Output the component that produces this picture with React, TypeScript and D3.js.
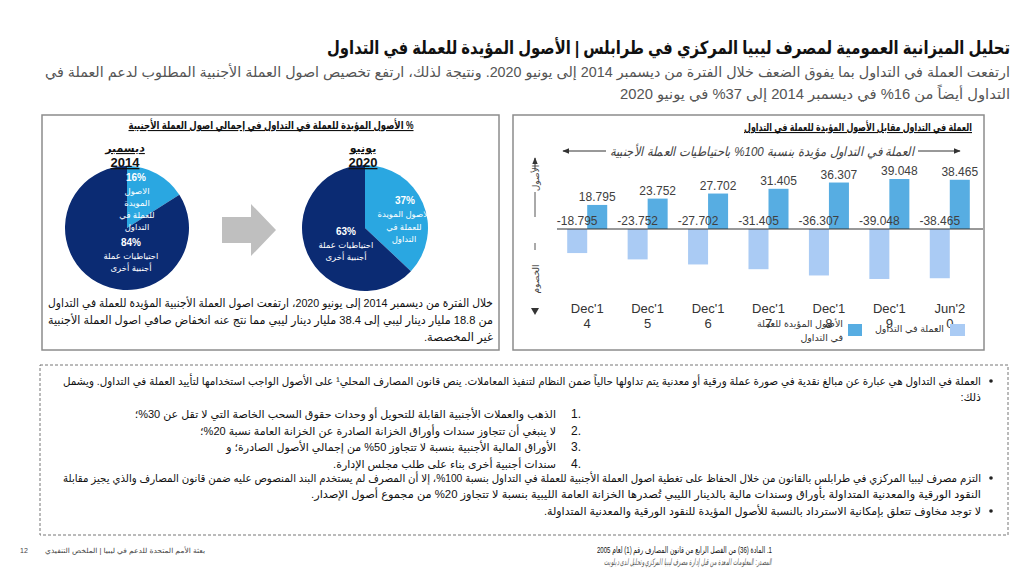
import React from 'react';
import * as d3 from 'd3';

// ---- data ----
const periods = ["Dec'14", "Dec'15", "Dec'16", "Dec'17", "Dec'18", "Dec'19", "Jun'20"];
const backedAssets = [18.795, 23.752, 27.702, 31.405, 36.307, 39.048, 38.465];
const currencyInCirculation = [-18.795, -23.752, -27.702, -31.405, -36.307, -39.048, -38.465];
const pieDec2014 = [16, 84];
const pieJun2020 = [37, 63];

const titleText = 'تحليل الميزانية العمومية لمصرف ليبيا المركزي في طرابلس | الأصول المؤيدة للعملة في التداول';
const subtitleLines = [
  'ارتفعت العملة في التداول بما يفوق الضعف خلال الفترة من ديسمبر 2014 إلى يونيو 2020. ونتيجة لذلك، ارتفع تخصيص اصول العملة الأجنبية المطلوب لدعم العملة في',
  'التداول أيضاً من 16% في ديسمبر 2014 إلى 37% في يونيو 2020',
];
const leftNoteLines = [
  'خلال الفترة من ديسمبر 2014 إلى يونيو 2020، ارتفعت اصول العملة الأجنبية المؤيدة للعملة في التداول',
  'من 18.8 مليار دينار ليبي إلى 38.4 مليار دينار ليبي مما نتج عنه انخفاض صافي اصول العملة الأجنبية',
  'غير المخصصة.',
];
const bullet1Lines = [
  'العملة في التداول هي عبارة عن مبالغ نقدية في صورة عملة ورقية أو معدنية يتم تداولها حالياً ضمن النظام لتنفيذ المعاملات. ينص قانون المصارف المحلي¹ على الأصول الواجب استخدامها لتأييد العملة في التداول. ويشمل',
  'ذلك:',
];
const lawItems = [
  'الذهب والعملات الأجنبية القابلة للتحويل أو وحدات حقوق السحب الخاصة التي لا تقل عن 30%؛',
  'لا ينبغي أن تتجاوز سندات وأوراق الخزانة الصادرة عن الخزانة العامة نسبة 20%؛',
  'الأوراق المالية الأجنبية بنسبة لا تتجاوز 50% من إجمالي الأصول الصادرة؛ و',
  'سندات أجنبية أخرى بناء على طلب مجلس الإدارة.',
];
const bullet2Lines = [
  'التزم مصرف ليبيا المركزي في طرابلس بالقانون من خلال الحفاظ على تغطية اصول العملة الأجنبية للعملة في التداول بنسبة 100%، إلا أن المصرف لم يستخدم البند المنصوص عليه ضمن قانون المصارف والذي يجيز مقابلة',
  'النقود الورقية والمعدنية المتداولة بأوراق وسندات مالية بالدينار الليبي تُصدرها الخزانة العامة الليبية بنسبة لا تتجاوز 20% من مجموع أصول الإصدار.',
];
const bullet3 = 'لا توجد مخاوف تتعلق بإمكانية الاسترداد بالنسبة للأصول المؤيدة للنقود الورقية والمعدنية المتداولة.';

const FONT = "'Liberation Sans', Arial, 'DejaVu Sans', sans-serif";
const DARK_NAVY = '#0b2b73';
const SKY = '#2aa7e1';
const BAR_DARK = '#57ade2';
const BAR_LIGHT = '#aacbf4';

type RProps = {
  x: number; y: number; size: number; children: React.ReactNode;
  fill?: string; weight?: string | number; len?: number; anchor?: string;
  italic?: boolean; underline?: boolean;
};

// right-to-left text, anchored at its right edge unless anchor is given
const RText: React.FC<RProps> = ({ x, y, size, children, fill = '#111', weight = 'normal', len, anchor = 'start', italic, underline }) => (
  <text
    x={x}
    y={y}
    fontSize={size}
    fontWeight={weight}
    fill={fill}
    textAnchor={anchor}
    fontStyle={italic ? 'italic' : 'normal'}
    textLength={len}
    lengthAdjust={len ? 'spacingAndGlyphs' : undefined}
    style={{ direction: 'rtl', textDecoration: underline ? 'underline' : 'none' }}
  >
    {children}
  </text>
);

const Pie: React.FC<{ cx: number; cy: number; r: number; values: number[] }> = ({ cx, cy, r, values }) => {
  const arcs = d3.pie<number>().sort(null).value(d => d)(values);
  const arc = d3.arc<d3.PieArcDatum<number>>().innerRadius(0).outerRadius(r);
  return (
    <g transform={`translate(${cx},${cy})`}>
      {arcs.map((a, i) => (
        <path key={i} d={arc(a) || ''} fill={i === 0 ? SKY : DARK_NAVY} />
      ))}
    </g>
  );
};

const App: React.FC = () => {
  // bar chart scales
  const x = d3.scaleBand<string>().domain(periods).range([557, 980]);
  const sub = d3.scaleBand<string>().domain(['circ', 'backed']).range([0, x.bandwidth()]).paddingOuter(0.51);
  const y = d3.scaleLinear().domain([-45, 45]).range([229 + 57.6, 229 - 57.6]);
  const y0 = y(0);

  const pie1 = { cx: 127, cy: 228, r: 62 };
  const pie2 = { cx: 365, cy: 228, r: 63 };

  return (
    <svg width={1024} height={577} style={{ position: 'absolute', left: 0, top: 0, background: '#fff' }} fontFamily={FONT}>
      <defs>
        <marker id="ah" viewBox="0 0 10 10" refX="9" refY="5" markerWidth="7" markerHeight="7" orient="auto-start-reverse">
          <path d="M0,1 L10,5 L0,9 z" fill="#333" />
        </marker>
      </defs>

      {/* heading */}
      <RText x={1010} y={54} size={18} weight="bold" fill="#111" len={683}>{titleText}</RText>
      <RText x={1010} y={77} size={14} fill="#555" len={965}>{subtitleLines[0]}</RText>
      <RText x={1010} y={99} size={14} fill="#555" len={390}>{subtitleLines[1]}</RText>

      {/* left panel */}
      <rect x={42} y={115} width={457} height={235} fill="none" stroke="#8c8c8c" strokeWidth={1.5} />
      <RText x={271} y={129} size={11} weight="bold" anchor="middle" underline len={285}>
        % الأصول المؤيدة للعملة في التداول في إجمالي اصول العملة الأجنبية
      </RText>

      <Pie {...pie1} values={pieDec2014} />
      <Pie {...pie2} values={pieJun2020} />

      <RText x={125} y={152} size={11} weight="bold" anchor="middle" underline>ديسمبر</RText>
      <text x={125} y={167} fontSize={13} fontWeight="bold" textAnchor="middle" fill="#111" textDecoration="underline">2014</text>
      <RText x={363} y={152} size={11} weight="bold" anchor="middle" underline>يونيو</RText>
      <text x={363} y={167} fontSize={13} fontWeight="bold" textAnchor="middle" fill="#111" textDecoration="underline">2020</text>

      {/* pie labels */}
      <g fill="#fff">
        <text x={136} y={181} fontSize={10} fontWeight="bold" textAnchor="middle" fill="#fff">{pieDec2014[0]}%</text>
        {['الاصول', 'المويدة', 'للعملة في', 'التداول'].map((t, i) => (
          <RText key={t} x={137} y={194 + i * 12} size={8.5} fill="#fff" anchor="middle">{t}</RText>
        ))}
        <text x={131} y={246} fontSize={10} fontWeight="bold" textAnchor="middle" fill="#fff">{pieDec2014[1]}%</text>
        <RText x={131} y={259} size={8.5} fill="#fff" anchor="middle">احتياطيات عملة</RText>
        <RText x={131} y={271} size={8.5} fill="#fff" anchor="middle">أجنبية أخرى</RText>

        <text x={405} y={204} fontSize={10} fontWeight="bold" textAnchor="middle" fill="#fff">{pieJun2020[0]}%</text>
        {['الاصول المويدة', 'للعملة في', 'التداول'].map((t, i) => (
          <RText key={t} x={404} y={217 + i * 12.5} size={8.5} fill="#fff" anchor="middle">{t}</RText>
        ))}
        <text x={346} y={235} fontSize={10} fontWeight="bold" textAnchor="middle" fill="#fff">{pieJun2020[1]}%</text>
        <RText x={346} y={248} size={8.5} fill="#fff" anchor="middle">احتياطيات عملة</RText>
        <RText x={346} y={260} size={8.5} fill="#fff" anchor="middle">أجنبية أخرى</RText>
      </g>

      {/* grey arrow between pies */}
      <path d="M222,217 L251,217 L251,204 L276,230 L251,256 L251,243 L222,243 Z" fill="#bfbfbf" />

      {leftNoteLines.map((t, i) => (
        <RText key={i} x={493} y={307 + i * 17} size={11.5} fill="#111" len={i < 2 ? 445 : undefined}>{t}</RText>
      ))}

      {/* right panel */}
      <rect x={513} y={115} width={471} height={235} fill="none" stroke="#8c8c8c" strokeWidth={1.5} />
      <RText x={972} y={131} size={11} weight="bold" underline len={228}>
        العملة في التداول مقابل الأصول المؤيدة للعملة في التداول
      </RText>

      <line x1={606} y1={151} x2={563} y2={151} stroke="#333" strokeWidth={1} markerEnd="url(#ah)" />
      <line x1={918} y1={151} x2={960} y2={151} stroke="#333" strokeWidth={1} markerEnd="url(#ah)" />
      <RText x={762} y={156} size={13} fill="#444" anchor="middle" italic len={305}>
        العملة في التداول مؤيدة بنسبة 100% باحتياطيات العملة الأجنبية
      </RText>

      {/* assets / liabilities axis note */}
      <line x1={535} y1={170} x2={535} y2={158} stroke="#333" strokeWidth={1} markerEnd="url(#ah)" />
      <text transform="translate(539,178) rotate(-90)" fontSize={9} textAnchor="middle" fill="#444" style={{ direction: 'rtl' }}>الأصول</text>
      <line x1={535} y1={192} x2={535} y2={217} stroke="#555" strokeWidth={1} />
      <line x1={535} y1={243} x2={535} y2={250} stroke="#555" strokeWidth={1} />
      <text transform="translate(539,279) rotate(-90)" fontSize={9} textAnchor="middle" fill="#444" style={{ direction: 'rtl' }}>الخصوم</text>
      <path d="M531,308 L539,308 L535,315 Z" fill="#333" />

      {/* bars */}
      {periods.map((p, i) => (
        <g key={p}>
          <rect x={(x(p) || 0) + (sub('circ') || 0)} y={y0} width={sub.bandwidth()} height={y(currencyInCirculation[i]) - y0} fill={BAR_LIGHT} />
          <rect x={(x(p) || 0) + (sub('backed') || 0)} y={y(backedAssets[i])} width={sub.bandwidth()} height={y0 - y(backedAssets[i])} fill={BAR_DARK} />
        </g>
      ))}
      <line x1={557} x2={983} y1={y0} y2={y0} stroke="#333" strokeWidth={1} />
      {periods.map((p, i) => (
        <g key={p + 'l'} fontSize={12} fill="#404040">
          <text x={(x(p) || 0) + (sub('backed') || 0) + sub.bandwidth() / 2} y={y(backedAssets[i]) - 4} textAnchor="middle">
            {backedAssets[i].toFixed(3)}
          </text>
          <text x={(x(p) || 0) + (sub('circ') || 0) + sub.bandwidth() / 2} y={y0 - 4} textAnchor="middle">
            {currencyInCirculation[i].toFixed(3)}
          </text>
        </g>
      ))}
      {periods.map(p => (
        <g key={p + 'c'} fontSize={13} fill="#333" textAnchor="middle">
          <text x={(x(p) || 0) + x.bandwidth() / 2} y={313}>{p.slice(0, 5)}</text>
          <text x={(x(p) || 0) + x.bandwidth() / 2} y={328}>{p.slice(5)}</text>
        </g>
      ))}

      {/* legend */}
      <rect x={848} y={324} width={14} height={12} fill={BAR_DARK} />
      <RText x={843} y={327} size={9.5} fill="#333">الأصول المؤيدة للعملة</RText>
      <RText x={843} y={341} size={9.5} fill="#333">في التداول</RText>
      <rect x={950} y={324} width={15} height={12} fill={BAR_LIGHT} />
      <RText x={944} y={332} size={9.5} fill="#333">العملة في التداول</RText>

      {/* dashed notes box */}
      <rect x={40} y={365} width={968} height={170} fill="none" stroke="#777" strokeWidth={1} strokeDasharray="3,2" />

      <circle cx={991} cy={381} r={1.8} fill="#222" />
      <RText x={981} y={385} size={11} len={918}>{bullet1Lines[0]}</RText>
      <RText x={981} y={401} size={11}>{bullet1Lines[1]}</RText>
      {lawItems.map((t, i) => (
        <g key={i}>
          <text x={581} y={418 + i * 16.5} fontSize={12} textAnchor="end" fill="#111">{i + 1}.</text>
          <RText x={556} y={418 + i * 16.5} size={11}>{t}</RText>
        </g>
      ))}
      <circle cx={991} cy={478} r={1.8} fill="#222" />
      <RText x={981} y={482} size={11} len={918}>{bullet2Lines[0]}</RText>
      <RText x={981} y={498} size={11} len={670}>{bullet2Lines[1]}</RText>
      <circle cx={991} cy={511} r={1.8} fill="#222" />
      <RText x={981} y={515} size={11}>{bullet3}</RText>

      {/* footer */}
      <text x={20} y={553} fontSize={7} fill="#444">12</text>
      <RText x={205} y={553} size={7} fill="#444" len={160}>بعثة الأمم المتحدة للدعم في ليبيا | الملخص التنفيذي</RText>
      <RText x={772} y={553} size={9} fill="#111" len={175}>1. المادة (36) من الفصل الرابع من قانون المصارف رقم (1) لعام 2005</RText>
      <RText x={772} y={565} size={9} fill="#555" italic len={168}>المصدر: المعلومات المعدة من قبل إدارة مصرف ليبيا المركزي وتحليل لدى ديلويت</RText>
    </svg>
  );
};

export default App;
